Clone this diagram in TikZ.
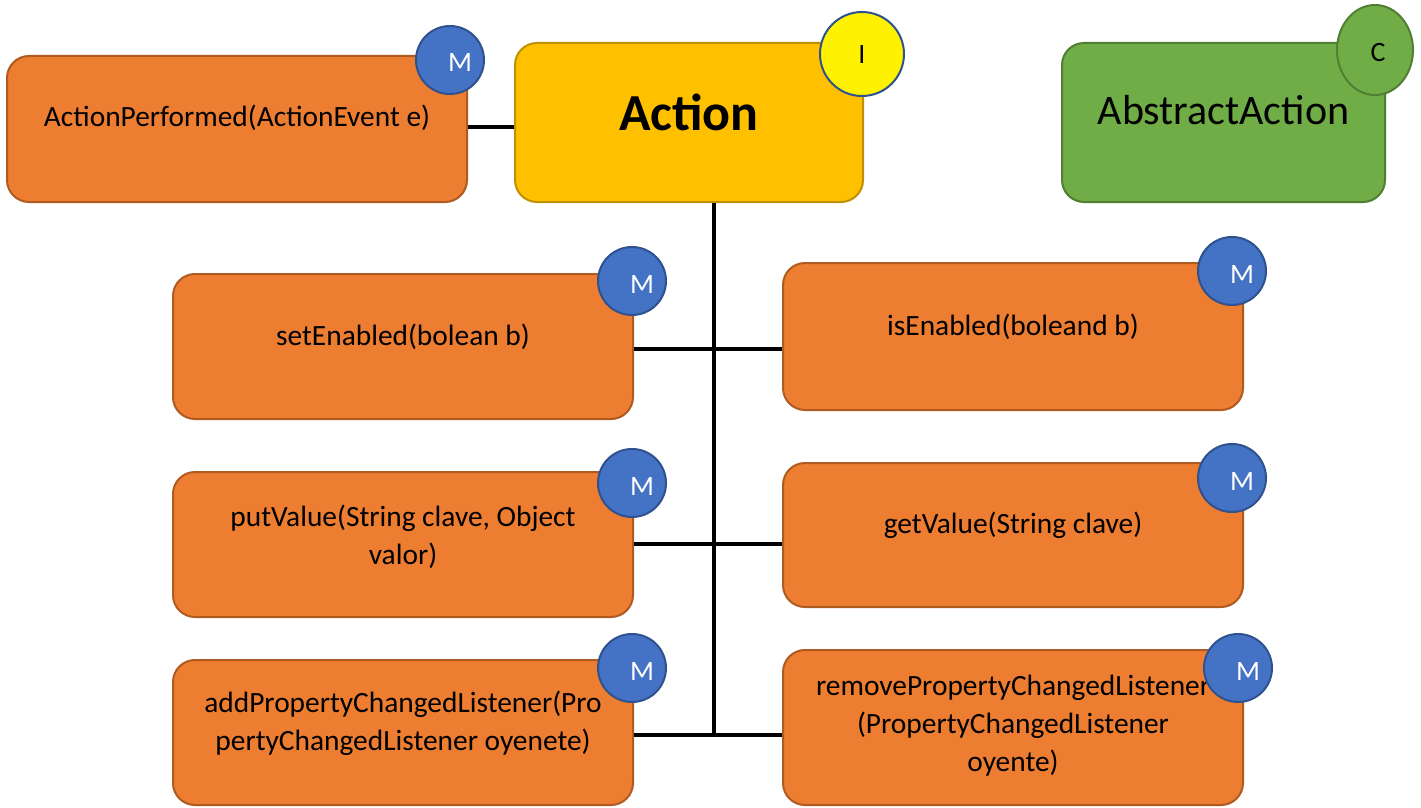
\documentclass[tikz,border=0pt]{standalone}
\usepackage{fontspec}
\setmainfont{Carlito}
\usetikzlibrary{shapes.geometric}
\definecolor{orangefill}{HTML}{ED7D31}
\definecolor{orangeedge}{HTML}{AE5A21}
\definecolor{goldfill}{HTML}{FFC000}
\definecolor{goldedge}{HTML}{BF9000}
\definecolor{greenfill}{HTML}{70AD47}
\definecolor{greenedge}{HTML}{507E32}
\definecolor{bluefill}{HTML}{4472C4}
\definecolor{blueedge}{HTML}{2F528F}
\begin{document}
\begin{tikzpicture}[x=1pt,y=-1pt,
  card/.style={draw, line width=2pt, rounded corners=22pt, inner sep=0pt},
  method/.style={card, fill=orangefill, draw=orangeedge, minimum width=460pt, minimum height=145pt},
  mtext/.style={align=center, font=\fontsize{29.4}{38}\selectfont, inner sep=0pt},
  badge/.style={circle, draw=blueedge, line width=2pt, fill=bluefill, minimum size=68pt, inner sep=0pt},
  badgetext/.style={text=white, font=\fontsize{28}{32}\selectfont, inner sep=0pt},
  wire/.style={line width=3.5pt, black}]
\useasboundingbox (0,0) rectangle (1421,808);

% top row: interface, its method and the abstract class
\node[method, minimum width=460pt, minimum height=146pt] (ap) at (237,129) {};
\node[mtext] (apt) at ([yshift=11pt]ap.center) {ActionPerformed(ActionEvent e)};
\node[card, fill=goldfill, draw=goldedge, minimum width=348pt, minimum height=159pt] (ac) at (689,122.5) {};
\node[inner sep=0pt, font=\fontsize{52}{60}\selectfont\bfseries] (act) at ([yshift=10pt]ac.center) {Action};
\node[card, fill=greenfill, draw=greenedge, minimum width=323pt, minimum height=159pt] (aa) at (1223.5,122.5) {};
\node[inner sep=0pt, font=\fontsize{42}{50}\selectfont] (aat) at ([yshift=12pt]aa.center) {AbstractAction};

% method cards, left column
\node[method] (se) at (403,346.5) {};
\node[mtext] (set) at ([yshift=10pt]se.center) {setEnabled(bolean b)};
\node[method] (pv) at (403,544.5) {};
\node[mtext] (pvt) at ([yshift=8pt]pv.center) {putValue(String clave, Object\\valor)};
\node[method] (ad) at (403,732.5) {};
\node[mtext] (adt) at ([yshift=9pt]ad.center) {addPropertyChangedListener(Pro\\pertyChangedListener oyenete)};

% method cards, right column
\node[method, minimum height=147pt] (ie) at (1013,336.5) {};
\node[mtext] (iet) at ([yshift=10pt]ie.center) {isEnabled(boleand b)};
\node[method, minimum height=144pt] (gv) at (1013,535) {};
\node[mtext] (gvt) at ([yshift=10pt]gv.center) {getValue(String clave)};
\node[method, minimum height=155pt] (rm) at (1013,727.5) {};
\node[mtext] (rmt) at ([yshift=2pt]rm.center) {removePropertyChangedListener\\(PropertyChangedListener\\oyente)};

% junctions of the connector tree
\coordinate (jtop) at (490,127);
\coordinate (j1) at (714,349);
\coordinate (j2) at (714,544);
\coordinate (j3) at (714,735);

\draw[wire] (jtop -| ap.east) -- (jtop -| ac.west);
\draw[wire] (j1 |- ac.south) -- (j3);
\draw[wire] (j1 -| se.east) -- (j1 -| ie.west);
\draw[wire] (j2 -| pv.east) -- (j2 -| gv.west);
\draw[wire] (j3 -| ad.east) -- (j3 -| rm.west);

% kind badges
\node[badge] (b1) at (450,60) {};
\node[badgetext] (b1t) at ([xshift=10pt,yshift=-3pt]b1.center) {M};
\node[badge] (b2) at (632,281) {};
\node[badgetext] (b2t) at ([xshift=10pt,yshift=-4pt]b2.center) {M};
\node[badge] (b3) at (632,483) {};
\node[badgetext] (b3t) at ([xshift=10pt,yshift=-4pt]b3.center) {M};
\node[badge] (b4) at (632,668) {};
\node[badgetext] (b4t) at ([xshift=10pt,yshift=-4pt]b4.center) {M};
\node[badge] (b5) at (1232,271) {};
\node[badgetext] (b5t) at ([xshift=10pt,yshift=-4pt]b5.center) {M};
\node[badge] (b6) at (1232,478) {};
\node[badgetext] (b6t) at ([xshift=10pt,yshift=-4pt]b6.center) {M};
\node[badge] (b7) at (1238,668) {};
\node[badgetext] (b7t) at ([xshift=10pt,yshift=-4pt]b7.center) {M};

\node[circle, draw=blueedge, line width=2pt, fill=yellow, minimum size=84pt, inner sep=0pt] (bi) at (862,54) {};
\node[inner sep=0pt, font=\fontsize{28}{32}\selectfont] (bit) at ([yshift=-1pt]bi.center) {I};
\node[ellipse, draw=greenedge, line width=2pt, fill=greenfill, minimum width=76pt, minimum height=90pt, inner sep=0pt] (bc) at (1375,50) {};
\node[inner sep=0pt, font=\fontsize{28}{32}\selectfont] (bct) at ([xshift=3pt,yshift=-3pt]bc.center) {C};
\end{tikzpicture}
\end{document}
